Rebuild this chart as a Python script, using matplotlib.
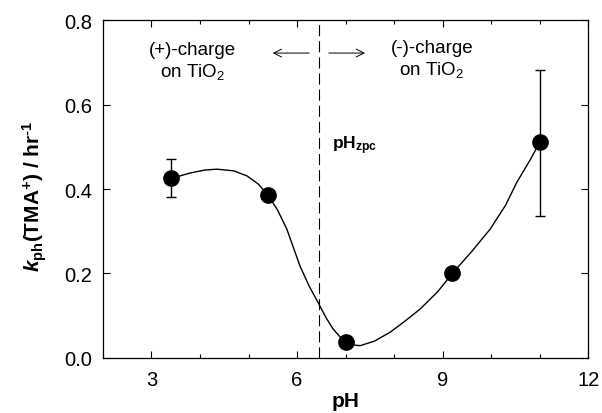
import matplotlib
matplotlib.use('Agg')
import matplotlib.pyplot as plt
from matplotlib.ticker import MultipleLocator, FormatStrFormatter

plt.rcParams['font.family'] = ['Liberation Sans', 'DejaVu Sans']
plt.rcParams['mathtext.fontset'] = 'custom'
plt.rcParams['mathtext.rm'] = 'Liberation Sans:bold'
plt.rcParams['mathtext.bf'] = 'Liberation Sans:bold'
plt.rcParams['mathtext.it'] = 'Liberation Sans:bold:italic'
plt.rcParams['mathtext.sf'] = 'Liberation Sans'

# measured points
ph = [3.4, 5.4, 7.0, 9.2, 11.0]
k_ph = [0.425, 0.387, 0.038, 0.200, 0.511]
err_lo = [0.045, 0.0, 0.0, 0.0, 0.176]
err_hi = [0.045, 0.0, 0.0, 0.0, 0.172]

# smooth fit line
fit_ph = [3.4, 3.8, 4.1, 4.35, 4.7, 4.97, 5.2, 5.4, 5.6, 5.79, 6.06, 6.25,
          6.43, 6.6, 6.74, 6.9, 7.0, 7.15, 7.3, 7.6, 7.92, 8.2, 8.54, 8.9,
          9.2, 9.6, 9.98, 10.3, 10.53, 10.8, 11.0]
fit_k = [0.425, 0.438, 0.445, 0.447, 0.443, 0.431, 0.412, 0.386, 0.350,
         0.305, 0.218, 0.170, 0.132, 0.095, 0.069, 0.048, 0.038, 0.031,
         0.029, 0.040, 0.061, 0.085, 0.116, 0.157, 0.200, 0.252, 0.305,
         0.362, 0.416, 0.468, 0.510]

ph_zpc = 6.45

fig = plt.figure(figsize=(6.02, 4.14), dpi=100)
ax = fig.add_axes([0.171, 0.133, 0.806, 0.816])

ax.plot(fit_ph, fit_k, color='black', lw=1.0, zorder=2)
ax.errorbar(ph, k_ph, yerr=[err_lo, err_hi], fmt='o', color='black',
            ms=11, elinewidth=1.0, capsize=3.6, capthick=1.0, zorder=3)

ax.axvline(ph_zpc, color='black', lw=0.8, dashes=(10, 4.5), zorder=1)

ax.annotate('', xy=(5.44, 0.722), xytext=(6.31, 0.722),
            arrowprops=dict(arrowstyle='->', color='black', lw=0.7,
                            mutation_scale=14))
ax.annotate('', xy=(7.46, 0.722), xytext=(6.60, 0.722),
            arrowprops=dict(arrowstyle='->', color='black', lw=0.7,
                            mutation_scale=14))

ax.text(3.84, 0.731, '(+)-charge', ha='center', va='center', fontsize=13.5)
ax.text(3.84, 0.679, r'on TiO$_\mathsf{2}$', ha='center', va='center', fontsize=13.5)
ax.text(8.78, 0.736, '(-)-charge', ha='center', va='center', fontsize=13.5)
ax.text(8.78, 0.684, r'on TiO$_\mathsf{2}$', ha='center', va='center', fontsize=13.5)
ax.text(6.72, 0.506, r'pH$_{\mathbf{zpc}}$', ha='left', va='center',
        fontsize=12.5, fontweight='bold')

ax.set_xlim(2, 12)
ax.set_ylim(0, 0.8)
ax.xaxis.set_major_locator(MultipleLocator(3))
ax.xaxis.set_minor_locator(MultipleLocator(1))
ax.yaxis.set_major_locator(MultipleLocator(0.2))
ax.yaxis.set_major_formatter(FormatStrFormatter('%.1f'))
ax.tick_params(which='both', direction='in', top=True, right=True,
               labelsize=14.5, width=0.8)
ax.tick_params(which='major', length=5)
ax.tick_params(which='minor', length=3)
ax.tick_params(axis='x', which='major', pad=9)
ax.tick_params(axis='y', which='major', pad=7.5)
for s in ax.spines.values():
    s.set_linewidth(0.9)

ax.set_xlabel('pH', fontsize=15, fontweight='bold', labelpad=1)
ax.set_ylabel('$k_{\\mathrm{ph}}$(TMA$^{+}$) / hr$^{\\mathrm{\u20101}}$',
              fontsize=15, fontweight='bold')
ax.yaxis.set_label_coords(-0.112, 0.48)

fig.savefig('out.png', dpi=100)
